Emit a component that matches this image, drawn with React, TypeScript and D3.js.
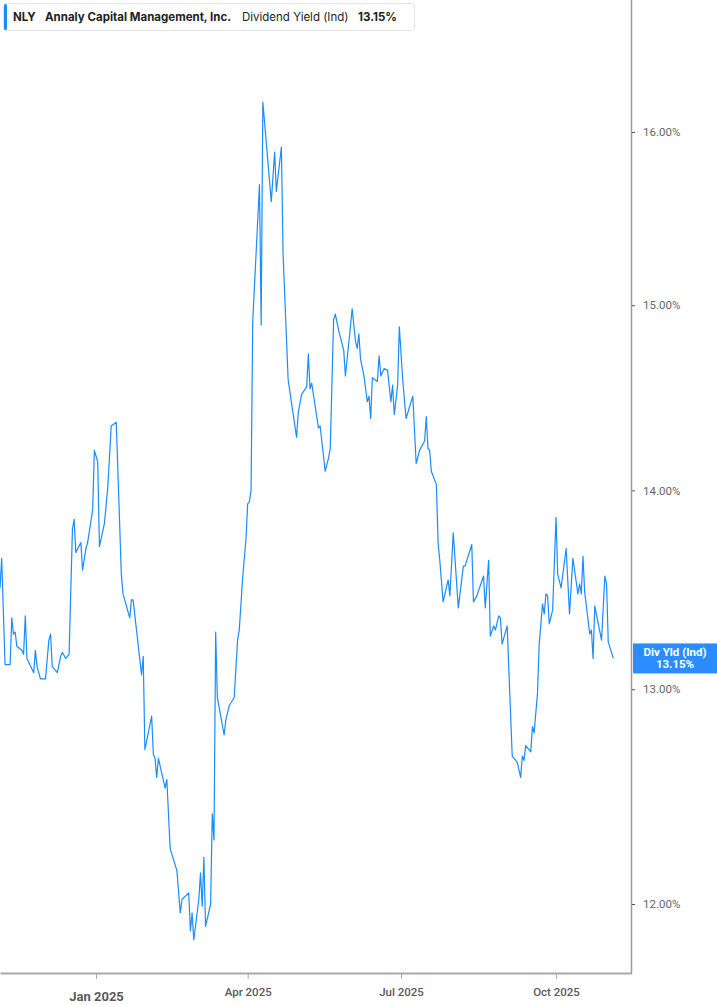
import React, { useEffect, useRef } from "react"
import * as d3 from "d3"

// NLY indicated dividend yield (%)
const dates: string[] = [
	"2024-11-05", "2024-11-06", "2024-11-08", "2024-11-11", "2024-11-12", "2024-11-13", "2024-11-14", "2024-11-15",
	"2024-11-18", "2024-11-19", "2024-11-20", "2024-11-21", "2024-11-25", "2024-11-26", "2024-11-27", "2024-11-29",
	"2024-12-02", "2024-12-04", "2024-12-05", "2024-12-06", "2024-12-09", "2024-12-11", "2024-12-12", "2024-12-14",
	"2024-12-16", "2024-12-18", "2024-12-19", "2024-12-20", "2024-12-23", "2024-12-24", "2024-12-26", "2024-12-27",
	"2024-12-30", "2024-12-31",
	"2025-01-02", "2025-01-03", "2025-01-06", "2025-01-08", "2025-01-10", "2025-01-13", "2025-01-16", "2025-01-17",
	"2025-01-21", "2025-01-22", "2025-01-23", "2025-01-28", "2025-01-29", "2025-01-30", "2025-01-31",
	"2025-02-03", "2025-02-04", "2025-02-05", "2025-02-06", "2025-02-07", "2025-02-11", "2025-02-12", "2025-02-14",
	"2025-02-18", "2025-02-20", "2025-02-21", "2025-02-25", "2025-02-26", "2025-02-27", "2025-02-28",
	"2025-03-03", "2025-03-04", "2025-03-05", "2025-03-06", "2025-03-07", "2025-03-10", "2025-03-11", "2025-03-12",
	"2025-03-13", "2025-03-14", "2025-03-18", "2025-03-19", "2025-03-21", "2025-03-24", "2025-03-26", "2025-03-27",
	"2025-03-29", "2025-03-31",
	"2025-04-01", "2025-04-02", "2025-04-03", "2025-04-04", "2025-04-08", "2025-04-09", "2025-04-10", "2025-04-15",
	"2025-04-17", "2025-04-18", "2025-04-21", "2025-04-22", "2025-04-25", "2025-04-30",
	"2025-05-01", "2025-05-03", "2025-05-06", "2025-05-07", "2025-05-08", "2025-05-09", "2025-05-13", "2025-05-14",
	"2025-05-17", "2025-05-19", "2025-05-20", "2025-05-22", "2025-05-23", "2025-05-25", "2025-05-28", "2025-05-29",
	"2025-05-31",
	"2025-06-02", "2025-06-04", "2025-06-05", "2025-06-06", "2025-06-07", "2025-06-09", "2025-06-11", "2025-06-12",
	"2025-06-13", "2025-06-14", "2025-06-17", "2025-06-18", "2025-06-19", "2025-06-21", "2025-06-23", "2025-06-25",
	"2025-06-26", "2025-06-27", "2025-06-29", "2025-06-30",
	"2025-07-02", "2025-07-04", "2025-07-08", "2025-07-10", "2025-07-12", "2025-07-15", "2025-07-16", "2025-07-17",
	"2025-07-18", "2025-07-19", "2025-07-22", "2025-07-23", "2025-07-24", "2025-07-26", "2025-07-29", "2025-07-30",
	"2025-08-01", "2025-08-04", "2025-08-07", "2025-08-08", "2025-08-12", "2025-08-13", "2025-08-15", "2025-08-19",
	"2025-08-20", "2025-08-22", "2025-08-23", "2025-08-25", "2025-08-26", "2025-08-28", "2025-08-29", "2025-08-30",
	"2025-09-02", "2025-09-05", "2025-09-08", "2025-09-10", "2025-09-11", "2025-09-12", "2025-09-13", "2025-09-16",
	"2025-09-17", "2025-09-18", "2025-09-20", "2025-09-21", "2025-09-23", "2025-09-24", "2025-09-25", "2025-09-26",
	"2025-09-27", "2025-09-29",
	"2025-10-01", "2025-10-02", "2025-10-04", "2025-10-07", "2025-10-09", "2025-10-11", "2025-10-14", "2025-10-15",
	"2025-10-16", "2025-10-17", "2025-10-18", "2025-10-21", "2025-10-22", "2025-10-23", "2025-10-24", "2025-10-28",
	"2025-10-30", "2025-10-31",
	"2025-11-01", "2025-11-04",
]

const yields: number[] = [
	13.5, 13.65, 13.12, 13.12, 13.35, 13.27, 13.28, 13.21,
	13.19, 13.17, 13.36, 13.15, 13.08, 13.19, 13.11, 13.05,
	13.05, 13.24, 13.27, 13.11, 13.08, 13.16, 13.18, 13.15,
	13.17, 13.8, 13.85, 13.68, 13.73, 13.59, 13.7, 13.73,
	13.9, 14.21,
	14.15, 13.71, 13.83, 14.02, 14.34, 14.36, 13.57, 13.47,
	13.35, 13.44, 13.44, 13.07, 13.16, 12.71, 12.75,
	12.87, 12.69, 12.67, 12.58, 12.67, 12.53, 12.57, 12.25,
	12.15, 11.96, 12.02, 12.05, 11.88, 11.96, 11.84,
	12.02, 12.14, 11.99, 12.21, 11.9, 12.0, 12.41, 12.29,
	13.28, 12.96, 12.78, 12.85, 12.92, 12.96, 13.24, 13.29,
	13.55, 13.75,
	13.93, 13.94, 14.0, 14.91, 15.69, 14.89, 16.18, 15.59,
	15.88, 15.65, 15.91, 15.29, 14.59, 14.28,
	14.41, 14.51, 14.55, 14.73, 14.54, 14.57, 14.33, 14.34,
	14.1, 14.17, 14.22, 14.92, 14.95, 14.86, 14.75, 14.61,
	14.79,
	14.98, 14.8, 14.76, 14.84, 14.7, 14.61, 14.47, 14.5,
	14.38, 14.6, 14.58, 14.72, 14.61, 14.65, 14.64, 14.47,
	14.56, 14.4, 14.56, 14.88,
	14.59, 14.38, 14.5, 14.14, 14.21, 14.26, 14.39, 14.22,
	14.21, 14.1, 14.03, 13.73, 13.64, 13.43, 13.54, 13.46,
	13.78, 13.4, 13.61, 13.61, 13.72, 13.43, 13.46, 13.56,
	13.4, 13.64, 13.26, 13.31, 13.29, 13.36, 13.35, 13.22,
	13.31, 12.68, 12.65, 12.58, 12.68, 12.66, 12.73, 12.7,
	12.82, 12.79, 12.98, 13.22, 13.42, 13.37, 13.47, 13.46,
	13.32, 13.39,
	13.86, 13.57, 13.5, 13.7, 13.37, 13.65, 13.47, 13.52,
	13.47, 13.66, 13.48, 13.27, 13.29, 13.15, 13.41, 13.24,
	13.56, 13.52,
	13.23, 13.15,
]

const yTicks: number[] = [12, 13, 14, 15, 16]
const xTicks: string[] = ["2025-01-01", "2025-04-01", "2025-07-01", "2025-10-01"]
const xTickLabels: string[] = ["Jan 2025", "Apr 2025", "Jul 2025", "Oct 2025"]

const ticker = "NLY"
const company = "Annaly Capital Management, Inc."
const metric = "Dividend Yield (Ind)"
const shortMetric = "Div Yld (Ind)"

const App: React.FC = () => {
	const ref = useRef<SVGSVGElement>(null)
	const width = 717
	const height = 1005
	// plot frame: right axis at plotRight, bottom axis at plotBottom
	const plotRight = 631
	const plotBottom = 973
	const blue = "#1a8cff"
	const axisGrey = "#a8a8a8"

	useEffect(() => {
		const svg = d3.select(ref.current)
		svg.selectAll("*").remove()

		const parse = d3.timeParse("%Y-%m-%d")
		const series = dates.map((d, i) => ({ date: parse(d) as Date, value: yields[i] }))

		const x = d3
			.scaleTime()
			.domain([new Date(2024, 10, 5), new Date(2025, 10, 14, 12)])
			.range([0, plotRight])
		const y = d3.scaleLog().domain([12, 16]).range([904, 132])

		/* ********** AXES ********** */
		const xAxis = d3
			.axisBottom(x)
			.tickValues(xTicks.map((d) => parse(d) as Date))
			//@ts-ignore
			.tickFormat((d, i) => xTickLabels[i])
			.tickSize(6)
			.tickSizeOuter(0)
			.tickPadding(9)

		const gx = svg
			.append("g")
			.attr("transform", `translate(0,${plotBottom})`)
			.call(xAxis)
		gx.select(".domain").attr("stroke", axisGrey).attr("stroke-width", 2)
		gx.selectAll(".tick line").attr("stroke", axisGrey)
		gx.selectAll(".tick text")
			.attr("fill", "#5a5a5a")
			.style("font-family", "Roboto, sans-serif")
			.style("font-size", (d, i) => (i === 0 ? "13px" : "11.5px"))
			.style("font-weight", (d, i) => (i === 0 ? "700" : "500"))
			.attr("dy", (d, i) => (i === 0 ? "1em" : "0.71em"))

		svg.append("line")
			.attr("x1", plotRight + 0.5)
			.attr("x2", plotRight + 0.5)
			.attr("y1", 0)
			.attr("y2", plotBottom + 1)
			.attr("stroke", "#9a9a9a")
			.attr("stroke-width", 1.5)

		const yAxis = d3
			.axisRight(y)
			.tickValues(yTicks)
			//@ts-ignore
			.tickFormat((d) => `${(+d).toFixed(2)}%`)
			.tickSize(3)
			.tickPadding(8)
		const gy = svg
			.append("g")
			.attr("transform", `translate(${plotRight + 1},0)`)
			.call(yAxis)
		gy.select(".domain").remove()
		gy.selectAll(".tick line").attr("stroke", "#555")
		gy.selectAll(".tick text")
			.attr("fill", "#666")
			.style("font-family", "Roboto, sans-serif")
			.style("font-size", "11.5px")

		/* ********** LINE ********** */
		const line = d3
			.line<{ date: Date; value: number }>()
			.x((d) => x(d.date))
			.y((d) => y(d.value))

		svg.append("path")
			.datum(series)
			.attr("fill", "none")
			.attr("stroke", blue)
			.attr("stroke-width", 1.2)
			.attr("stroke-linejoin", "round")
			.attr("d", line)

		/* ********** LAST VALUE TAG ********** */
		const last = series[series.length - 1]
		const tagY = y(last.value)
		const tag = svg.append("g").attr("transform", `translate(${plotRight + 2},${tagY - 15})`)
		tag.append("rect").attr("width", width - plotRight - 2).attr("height", 30).attr("fill", "#2a8cff")
		const tagText = tag
			.append("text")
			.attr("text-anchor", "middle")
			.attr("fill", "white")
			.style("font-family", "Roboto, sans-serif")
			.style("font-size", "11.5px")
			.style("font-weight", "700")
		tagText.append("tspan").attr("x", (width - plotRight - 2) / 2).attr("y", 12.5).text(shortMetric)
		tagText.append("tspan").attr("x", (width - plotRight - 2) / 2).attr("y", 25).text(`${last.value.toFixed(2)}%`)

		/* ********** LEGEND ********** */
		const legend = svg.append("g")
		legend
			.append("rect")
			.attr("x", 3.5)
			.attr("y", 3.5)
			.attr("width", 411)
			.attr("height", 27)
			.attr("rx", 3)
			.attr("fill", "white")
			.attr("stroke", "#e4e4e4")
		legend.append("rect").attr("x", 4).attr("y", 4).attr("width", 3).attr("height", 26).attr("rx", 1.5).attr("fill", blue)

		const items: [string, number, string][] = [
			[ticker, 13, "700"],
			[company, 45, "700"],
			[metric, 242, "400"],
			[`${last.value.toFixed(2)}%`, 358, "700"],
		]
		legend
			.selectAll(".legendText")
			.data(items)
			.join("text")
			.attr("class", "legendText")
			.attr("x", (d) => d[1])
			.attr("y", 21)
			.attr("fill", "#222")
			.style("font-family", "Inter, sans-serif")
			.style("font-size", "11.5px")
			.style("font-weight", (d) => d[2])
			.text((d) => d[0])
	}, [])

	return (
		<div style={{ position: "absolute", left: 0, top: 0, width, height, background: "white" }}>
			<svg ref={ref} width={width} height={height} />
		</div>
	)
}

export default App
